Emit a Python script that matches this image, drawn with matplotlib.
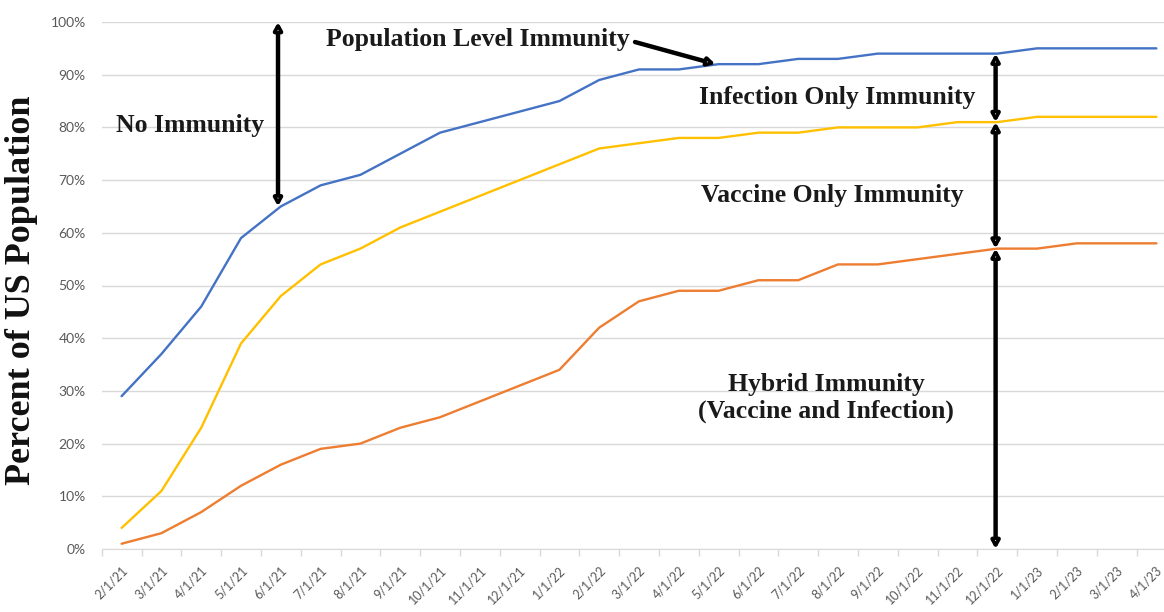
import matplotlib
matplotlib.use("Agg")
import matplotlib.pyplot as plt
import numpy as np

months = ["2/1/21", "3/1/21", "4/1/21", "5/1/21", "6/1/21", "7/1/21", "8/1/21", "9/1/21",
          "10/1/21", "11/1/21", "12/1/21", "1/1/22", "2/1/22", "3/1/22", "4/1/22", "5/1/22",
          "6/1/22", "7/1/22", "8/1/22", "9/1/22", "10/1/22", "11/1/22", "12/1/22", "1/1/23",
          "2/1/23", "3/1/23", "4/1/23"]
population = [29, 37, 46, 59, 65, 69, 71, 75, 79, 81, 83, 85, 89, 91, 91, 92, 92, 93, 93, 94,
              94, 94, 94, 95, 95, 95, 95]
vaccine = [4, 11, 23, 39, 48, 54, 57, 61, 64, 67, 70, 73, 76, 77, 78, 78, 79, 79, 80, 80, 80,
           81, 81, 82, 82, 82, 82]
hybrid = [1, 3, 7, 12, 16, 19, 20, 23, 25, 28, 31, 34, 42, 47, 49, 49, 51, 51, 54, 54, 55, 56,
          57, 57, 58, 58, 58]
yticks = [0, 10, 20, 30, 40, 50, 60, 70, 80, 90, 100]

W, H = 1164, 612
fig = plt.figure(figsize=(W / 100, H / 100), dpi=100)
left, right, bottom, top = 101.7, 101.7 + 27 * 39.8, 549, 22
ax = fig.add_axes([left / W, (H - bottom) / H, (right - left) / W, (bottom - top) / H])

x = np.arange(len(months))
ax.plot(x, population, color="#4472C4", lw=1.7, solid_capstyle="round", zorder=3)
ax.plot(x, vaccine, color="#FFC000", lw=1.7, solid_capstyle="round", zorder=3)
ax.plot(x, hybrid, color="#ED7D31", lw=1.7, solid_capstyle="round", zorder=3)

ax.set_xlim(-0.5, len(months) - 0.5)
ax.set_ylim(0, 100)
ax.set_yticks(yticks)
ax.set_yticklabels([f"{v}%" for v in yticks], fontsize=10, color="#595959", family="Lato")
ax.yaxis.grid(True, color="#D9D9D9", lw=1)
ax.set_axisbelow(True)
ax.tick_params(axis="y", length=0, pad=11.5)

ax.set_xticks(x)
ax.set_xticklabels(months, rotation=45, ha="right", rotation_mode="anchor",
                   fontsize=9, color="#595959", family="Lato")
ax.set_xticks(np.arange(-0.5, len(months), 1), minor=True)
ax.tick_params(axis="x", which="major", length=0, pad=11)
ax.tick_params(axis="x", which="minor", length=5, color="#D9D9D9", width=1)

for s in ["top", "right", "left"]:
    ax.spines[s].set_visible(False)
ax.spines["bottom"].set_color("#D9D9D9")

fig.text(22 / W, 1 - 290 / H, "Percent of US Population", rotation=90, ha="center", va="center",
         fontsize=26, fontweight="bold", family="Liberation Serif", color="#111111")

tkw = dict(fontsize=18.5, fontweight="bold", family="Liberation Serif", color="#1a1a1a")
ax.text(-0.15, 80.3, "No Immunity", ha="left", va="center", **tkw)
ax.text(5.13, 96.6, "Population Level Immunity", ha="left", va="center", **tkw)
ax.text(14.5, 85.6, "Infection Only Immunity", ha="left", va="center", **tkw)
ax.text(14.55, 67.0, "Vaccine Only Immunity", ha="left", va="center", **tkw)
ax.text(17.7, 28.7, "Hybrid Immunity\n(Vaccine and Infection)", ha="center", va="center",
        linespacing=1.2, **tkw)


def darrow(xv, y0, y1):
    ax.annotate("", xy=(xv, y1), xytext=(xv, y0),
                arrowprops=dict(arrowstyle="<|-|>,head_length=0.4,head_width=0.22",
                                lw=3.2, ec="black", fc="white", shrinkA=0, shrinkB=0),
                zorder=5, annotation_clip=False)


arrow_x = [3.93, 21.96]
darrow(arrow_x[0], 65, 100)
darrow(arrow_x[1], 81, 94)
darrow(arrow_x[1], 57, 81)
darrow(arrow_x[1], 0, 57)

ax.annotate("", xy=(14.92, 92), xytext=(12.9, 96.2),
            arrowprops=dict(arrowstyle="-|>,head_length=0.4,head_width=0.22", lw=3.2,
                            ec="black", fc="white", shrinkA=0, shrinkB=0), zorder=5)

fig.savefig("out.png", dpi=100, facecolor="white")
